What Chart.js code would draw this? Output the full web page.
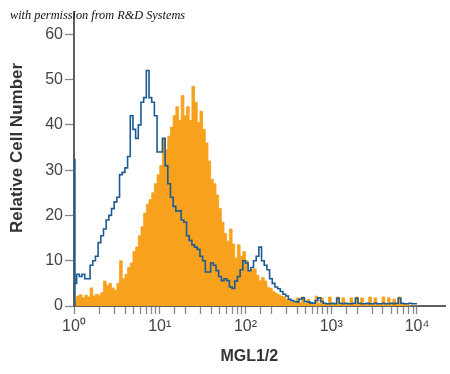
<!DOCTYPE html>
<html>
<head>
<meta charset="utf-8">
<script src="https://cdn.jsdelivr.net/npm/chart.js@4/dist/chart.umd.min.js"></script>
<style>
  html, body { margin: 0; padding: 0; background: #fff; }
  #wrap { width: 450px; height: 374px; position: relative; }
</style>
</head>
<body>
<div id="wrap"><canvas id="hist"></canvas></div>
<script>
// 128 channels over 4 decades (32 per decade), counts
const binsPerDecade = 32;
const decadeLabels = ['10\u2070', '10\u00b9', '10\u00b2', '10\u00b3', '10\u2074'];
const yTicks = [0, 10, 20, 30, 40, 50, 60];

// events piled up in the very first channel of the isotype run
const isotypePileUp = 32.5;
const pileUpChannel = 1.025;

// isotype control (blue outline)
const isotypeCounts = [
  4.3, 5, 7, 6.5, 7, 6, 6, 9, 10, 11,
  14, 15.5, 17, 19, 20, 21.5, 23, 24, 29, 29.5,
  30.5, 33, 42, 39, 37, 40, 45, 46, 52, 46,
  45, 42, 34, 34, 37, 31, 27, 24, 22, 21,
  21, 19, 18.5, 15.5, 14.5, 13.5, 13, 12.5, 11, 10,
  7.5, 7.5, 9.5, 9, 7.8, 6.5, 5.6, 6, 5.6, 4.2,
  3.9, 5.5, 6.5, 8, 10, 9.5, 7.8, 8.5, 10, 11,
  13, 10, 9, 8, 6, 5, 4.2, 3.8, 3.2, 2.6,
  2.2, 1.5, 1.2, 1, 0.9, 1.5, 1.8, 1, 0.9, 0.7,
  0.6, 1.2, 1.8, 1, 0.6, 0.5, 0.5, 0.6, 0.5, 1.7,
  0.6, 0.5, 0.6, 0.5, 0.5, 0.6, 1.7, 0.6, 0.5, 0.5,
  0.6, 0.5, 0.5, 0.6, 0.5, 0.5, 0.6, 0.5, 0.5, 0.6,
  0.5, 0.6, 1.7, 0.6, 0.5, 0.5, 0.6, 0.5
];

// MGL1/2 stained (orange fill)
const stainedCounts = [
  2, 1.5, 2.2, 2.5, 1.8, 2.4, 2, 4, 2.2, 2.6,
  2.4, 3, 5.5, 4.5, 5, 4, 3.5, 5, 10, 6,
  7, 8.5, 9.5, 12, 13, 15.5, 17.5, 20.5, 22.5, 23.5,
  25, 27, 29, 31, 37, 34.5, 37.5, 39.5, 42, 44,
  41, 46.5, 42, 44, 41, 48.5, 45, 40.5, 43, 39,
  36, 32, 28, 27, 24.5, 21.5, 18.5, 16, 14.3, 17,
  13.7, 10.6, 13.5, 11, 12, 10, 7.8, 8, 8.2, 6.8,
  5.6, 6.3, 5.5, 4.1, 3.9, 3.2, 2.8, 2.5, 2.2, 2,
  1.5, 1.3, 1, 0.8, 1.8, 0.7, 2, 0.6, 1.5, 0.6,
  0.5, 2.2, 0.6, 1.8, 0.5, 0.5, 2, 0.5, 0.6, 2,
  0.5, 1.8, 0.5, 0.4, 1.8, 0.5, 2, 0.5, 1.8, 0.4,
  0.5, 2, 0.5, 1.8, 0.4, 0.4, 2, 0.5, 1.8, 0.4,
  1.5, 0.5, 2, 0.5, 0.4, 0.3, 0, 0
];

function toSteps(counts, pileUp){
  const pts = counts.map((c, i) => ({x: Math.pow(10, i / binsPerDecade), y: c}));
  pts.push({x: Math.pow(10, counts.length / binsPerDecade), y: counts[counts.length - 1]});
  if (pileUp) {
    pts[0].x = pileUpChannel;
    pts.unshift({x: pileUpChannel, y: 0}, {x: pileUpChannel, y: pileUp});
  }
  return pts;
}

const fam = "'Liberation Sans', Arial, sans-serif";

const watermark = {
  id: 'watermark',
  afterDraw(chart){
    const ctx = chart.ctx;
    ctx.save();
    ctx.font = "italic 12.3px 'Liberation Serif', 'DejaVu Serif', serif";
    ctx.fillStyle = '#111';
    ctx.textBaseline = 'alphabetic';
    ctx.fillText('with permission from R&D Systems', 10, 19);
    ctx.restore();
  }
};

new Chart(document.getElementById('hist'), {
  type: 'scatter',
  data: {
    datasets: [{
      label: 'Isotype control',
      data: toSteps(isotypeCounts, isotypePileUp),
      showLine: true,
      stepped: 'after',
      borderColor: '#1d5b93',
      borderWidth: 1.6,
      pointRadius: 0,
      fill: false,
      order: 1,
      clip: false
    }, {
      label: 'MGL1/2',
      data: toSteps(stainedCounts, 0),
      showLine: true,
      stepped: 'after',
      borderColor: '#f7a11c',
      borderWidth: 0.8,
      backgroundColor: '#f7a11c',
      pointRadius: 0,
      fill: 'origin',
      order: 2
    }]
  },
  options: {
    responsive: true,
    maintainAspectRatio: false,
    animation: false,
    events: [],
    layout: {padding: {top: 7, right: 5, left: 0, bottom: 0}},
    plugins: {
      legend: {display: false},
      tooltip: {enabled: false}
    },
    scales: {
      x: {
        type: 'logarithmic',
        min: 1,
        max: Math.pow(10, 4.327),
        afterBuildTicks: (axis) => {
          axis.ticks = axis.ticks.filter(t => t.value <= 10000);
        },
        afterFit: (scale) => { scale.height = 68; },
        border: {display: true, color: '#606060', width: 2},
        grid: {drawOnChartArea: false, drawTicks: true, tickLength: 8, tickColor: '#888', tickWidth: 1.3},
        ticks: {
          autoSkip: false,
          maxRotation: 0,
          padding: 3,
          color: '#444',
          font: {family: fam, size: 16},
          callback: (v) => {
            const p = Math.log10(v);
            return Math.abs(p - Math.round(p)) < 1e-9 ? decadeLabels[Math.round(p)] : '';
          }
        },
        title: {
          display: true,
          text: 'MGL1/2\u2002\u2002 ',
          color: '#333',
          font: {family: fam, size: 16, weight: 'bold'},
          padding: {top: 0, bottom: 8}
        }
      },
      y: {
        min: 0,
        max: 65,
        afterBuildTicks: (axis) => {
          axis.ticks = yTicks.map(v => ({value: v}));
        },
        afterFit: (scale) => { scale.width = 74; },
        border: {display: true, color: '#606060', width: 2},
        grid: {drawOnChartArea: false, drawTicks: true, tickLength: 9, tickColor: '#888', tickWidth: 1.3},
        ticks: {
          padding: 2,
          color: '#444',
          font: {family: fam, size: 16}
        },
        title: {
          display: true,
          text: '\u2003 Relative Cell Number',
          color: '#333',
          font: {family: fam, size: 17, weight: 'bold'},
          padding: {top: 7, bottom: 0}
        }
      }
    }
  },
  plugins: [watermark]
});
</script>
</body>
</html>
